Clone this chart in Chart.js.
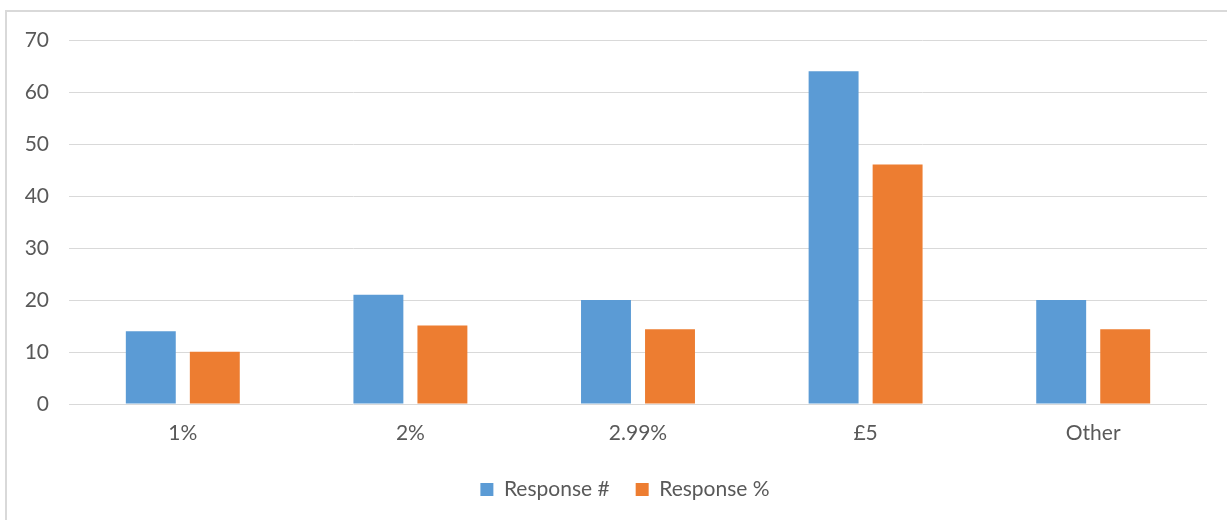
<!DOCTYPE html>
<html>
<head>
<meta charset="utf-8">
<script src="https://cdn.jsdelivr.net/npm/chart.js@4/dist/chart.umd.min.js"></script>
<style>
  html, body { margin:0; padding:0; background:#fff; overflow:hidden; }
  .frame { position:absolute; left:5px; top:10px; width:1240px; height:530px; border-left:2px solid #d9d9d9; border-top:2px solid #d9d9d9; }
  .wrap { position:absolute; left:0; top:0; width:1227px; height:520px; }
</style>
</head>
<body>
<div class="frame"></div>
<div class="wrap"><canvas id="chart"></canvas></div>
<script>
const C = { blue:'#5b9bd5', orange:'#ed7d31', grid:'#d9d9d9', text:'#595959' };
Chart.defaults.font.family = "Lato, 'Open Sans', sans-serif";
Chart.defaults.font.size = 21;
Chart.defaults.color = C.text;

// data
const categories   = ['1%', '2%', '2.99%', '£5', 'Other'];
const responseNum  = [14, 21, 20, 64, 20];
const responsePct  = [10.07, 15.11, 14.39, 46.04, 14.39];
const yTicks       = [0, 10, 20, 30, 40, 50, 60, 70];

// legend sits a bit right of the canvas centre in the original
const legendShift = { id:'legendShift', afterLayout(chart){ if (chart.legend) chart.legend.left = 43; } };

new Chart(document.getElementById('chart'), {
  type:'bar',
  data:{
    labels:categories,
    datasets:[
      { label:'Response #', data:responseNum, backgroundColor:C.blue, categoryPercentage:0.5625, barPercentage:0.78 },
      { label:'Response %', data:responsePct, backgroundColor:C.orange, categoryPercentage:0.5625, barPercentage:0.78 }
    ]
  },
  options:{
    responsive:true, maintainAspectRatio:false, animation:false,
    layout:{ padding:{ left:0, right:20, top:40, bottom:10 } },
    plugins:{
      legend:{ position:'bottom', labels:{ boxWidth:13, boxHeight:13, padding:26, color:C.text } },
      tooltip:{ enabled:false }
    },
    scales:{
      x:{ grid:{ display:false, drawTicks:false }, border:{ display:false },
          ticks:{ padding:17, color:C.text },
          afterFit:s=>{ s.height = 49; } },
      y:{ min:0, max:70, border:{ display:false },
          grid:{ color:C.grid, drawTicks:false, lineWidth:1 },
          afterBuildTicks:s=>{ s.ticks = yTicks.map(v=>({ value:v })); },
          ticks:{ padding:20, color:C.text },
          afterFit:s=>{ s.width = 69; } }
    }
  },
  plugins:[legendShift]
});
</script>
</body>
</html>
